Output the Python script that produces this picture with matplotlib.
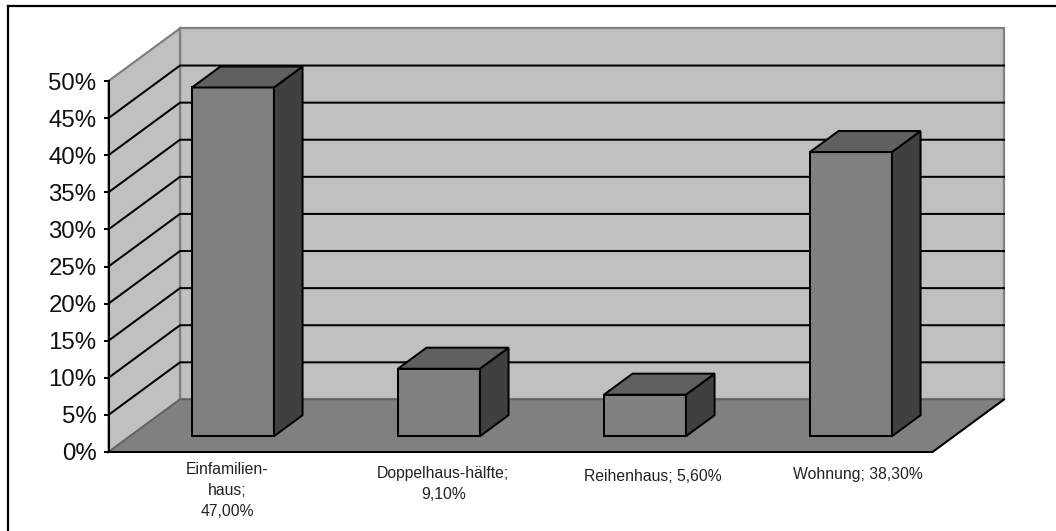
import matplotlib
matplotlib.use('Agg')
import matplotlib.pyplot as plt
from matplotlib.lines import Line2D

plt.rcParams['font.family'] = ['Liberation Sans', 'DejaVu Sans']

categories = ['Einfamilien-\nhaus;\n47,00%', 'Doppelhaus-hälfte;\n9,10%', 'Reihenhaus; 5,60%', 'Wohnung; 38,30%']
values = [47.0, 9.1, 5.6, 38.3]
y_ticks = [0, 5, 10, 15, 20, 25, 30, 35, 40, 45, 50]
y_labels = ['0%', '5%', '10%', '15%', '20%', '25%', '30%', '35%', '40%', '45%', '50%']

W, H = 1056, 531
# 3D look: how far the back wall is shifted from the front plane
depth_x = 71.5 / 206
depth_y = 52.5 / 7.41
bar_w = 0.398
bar_d0, bar_d1 = 0.30, 0.70
line_w = 1.45


def proj(x, y, d):
    return x + d * depth_x, y + d * depth_y


def poly(ax, pts, color, edge='black', lw=line_w, z=2):
    xs = [p[0] for p in pts]
    ys = [p[1] for p in pts]
    ax.fill(xs, ys, facecolor=color, edgecolor=edge, linewidth=lw, clip_on=False,
            zorder=z, joinstyle='miter')


fig = plt.figure(figsize=(W / 100, H / 100), dpi=100)
ax = fig.add_axes([108.5 / W, (H - 452) / H, 824 / W, 371 / H])
ax.set_xlim(0, 4)
ax.set_ylim(0, 50)
ax.patch.set_visible(False)

# walls and floor
poly(ax, [proj(0, 0, 1), proj(4, 0, 1), proj(4, 50, 1), proj(0, 50, 1)], '#c0c0c0', '#808080', 1.6, 1)
poly(ax, [proj(0, 0, 0), proj(0, 0, 1), proj(0, 50, 1), proj(0, 50, 0)], '#c0c0c0', '#808080', 1.6, 1)
poly(ax, [proj(0, 0, 0), proj(4, 0, 0), proj(4, 0, 1), proj(0, 0, 1)], '#808080', '#606060', 1.2, 1.1)

# gridlines on both walls
for t in y_ticks[1:-1]:
    xs = [proj(0, t, 0)[0], proj(0, t, 1)[0], proj(4, t, 1)[0]]
    ys = [proj(0, t, 0)[1], proj(0, t, 1)[1], proj(4, t, 1)[1]]
    ax.plot(xs, ys, color='black', lw=line_w, clip_on=False, zorder=1.5)

# floor front and right edge
ax.plot([proj(0, 0, 0)[0], proj(4, 0, 0)[0], proj(4, 0, 1)[0]],
        [proj(0, 0, 0)[1], proj(4, 0, 0)[1], proj(4, 0, 1)[1]],
        color='black', lw=line_w, clip_on=False, zorder=1.6)

for i, v in enumerate(values):
    x0 = i + 0.5 - bar_w / 2
    x1 = i + 0.5 + bar_w / 2
    poly(ax, [proj(x0, 0, bar_d0), proj(x1, 0, bar_d0), proj(x1, v, bar_d0), proj(x0, v, bar_d0)], '#808080')
    poly(ax, [proj(x1, 0, bar_d0), proj(x1, 0, bar_d1), proj(x1, v, bar_d1), proj(x1, v, bar_d0)], '#404040')
    poly(ax, [proj(x0, v, bar_d0), proj(x1, v, bar_d0), proj(x1, v, bar_d1), proj(x0, v, bar_d1)], '#606060')

for s in ['top', 'right', 'bottom']:
    ax.spines[s].set_visible(False)
ax.spines['left'].set_linewidth(line_w)
ax.spines['left'].set_zorder(3)
ax.set_xticks([])
ax.set_yticks(y_ticks)
ax.set_yticklabels(y_labels, fontsize=17.3, color='#111111')
ax.tick_params(axis='y', length=3.6, width=line_w, pad=5)

# category labels, placed a little to the right of the slot centre
label_dx = [0.075, 0.125, 0.14, 0.14]
label_top = [462, 466, 469, 467]
for i, lab in enumerate(categories):
    t = ax.text(i + 0.5 + label_dx[i], 0, lab, transform=ax.get_xaxis_transform(), ha='center', va='top',
                fontsize=11.3, color='#222222', linespacing=1.5, clip_on=False)
    t.set_y(-(label_top[i] - 452) / 371)

# outer frame, only the top and left show in the picture
fig.add_artist(Line2D([7.5 / W, 7.5 / W], [0, (H - 6) / H], color='black', lw=1.6))
fig.add_artist(Line2D([7.5 / W, 1], [(H - 6) / H, (H - 6) / H], color='black', lw=1.6))

fig.savefig('out.png', dpi=100)
